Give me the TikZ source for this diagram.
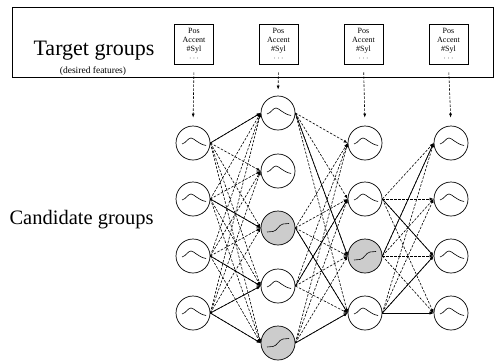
\documentclass[tikz,border=0pt]{standalone}
\usepackage{fontspec}
\setmainfont{Liberation Serif}
\usetikzlibrary{arrows.meta}

\begin{document}
\begin{tikzpicture}[x=1pt,y=-1pt,
    cand/.style={circle,draw,line width=0.7pt,minimum size=34pt,inner sep=0pt},
    bump/.style={cand,path picture={\draw[line width=0.6pt,shift={(path picture bounding box.center)}]
        (-11,1) .. controls (-7,0) and (-5,-5) .. (-2,-5) .. controls (1,-5) and (5,1) .. (13,2.5);}},
    sigm/.style={cand,fill=black!20,path picture={\draw[line width=0.6pt,shift={(path picture bounding box.center)}]
        (-11,4) -- (-5,3.5) .. controls (-1,3) and (1,-3.5) .. (5,-4) -- (11,-4.5);}},
    tbox/.style={draw,line width=0.7pt,minimum width=39pt,minimum height=40pt,inner sep=1pt,
        align=center,font=\fontsize{8}{9}\selectfont},
    dedge/.style={-{Latex[length=4pt,width=3pt]},dash pattern=on 2.5pt off 1.5pt,line width=0.6pt},
    sedge/.style={-{Latex[length=4pt,width=3pt]},line width=0.7pt}]
    \useasboundingbox (0,0) rectangle (494,362);
    % frame of the target groups
    \draw[line width=0.8pt] (12,7) rectangle (493,77);
    \node[anchor=base,font=\fontsize{22}{24}\selectfont] (tlab) at (94,55) {Target groups};
    \node[anchor=base,font=\fontsize{9.5}{11}\selectfont] (tsub) at (93,73) {(desired features)};
    \node[anchor=base west,font=\fontsize{20.5}{24}\selectfont] (clab) at (6,224) {Candidate groups};
    % target feature boxes
    \node[tbox] (t1) at (194,44) {Pos\\Accent\\\#Syl\\$\cdots$};
    \node[tbox] (t2) at (278.5,44) {Pos\\Accent\\\#Syl\\$\cdots$};
    \node[tbox] (t3) at (363.5,44) {Pos\\Accent\\\#Syl\\$\cdots$};
    \node[tbox] (t4) at (448.5,44) {Pos\\Accent\\\#Syl\\$\cdots$};
    % candidate columns
    \node[bump] (a1) at (193,143) {};
    \node[bump] (a2) at (193,199) {};
    \node[bump] (a3) at (193,256) {};
    \node[bump] (a4) at (193,313) {};
    \node[bump] (b1) at (278,113) {};
    \node[bump] (b2) at (278,171) {};
    \node[sigm] (b3) at (278,228) {};
    \node[bump] (b4) at (278,286) {};
    \node[sigm] (b5) at (278,343) {};
    \node[bump] (c1) at (365,143) {};
    \node[bump] (c2) at (365,199) {};
    \node[sigm] (c3) at (365,256) {};
    \node[bump] (c4) at (365,313) {};
    \node[bump] (d1) at (451,143) {};
    \node[bump] (d2) at (451,199) {};
    \node[bump] (d3) at (451,256) {};
    \node[bump] (d4) at (451,313) {};
    % targets to first candidates
    \draw[dedge,shorten <=8pt,shorten >=8pt] (t1.south) -- (a1.north);
    \draw[dedge,shorten <=8pt,shorten >=6pt] (t2.south) -- (b1.north);
    \draw[dedge,shorten <=8pt,shorten >=8pt] (t3.south) -- (c1.north);
    \draw[dedge,shorten <=8pt,shorten >=8pt] (t4.south) -- (d1.north);
    % all transitions
    \foreach \i in {1,...,4}
        \foreach \j in {1,...,5}
            \draw[dedge] (a\i.east) -- (b\j.west);
    \foreach \i in {1,3,4,5}
        \foreach \j in {1,...,4}
            \draw[dedge] (b\i.east) -- (c\j.west);
    \foreach \i in {2,3,4}
        \foreach \j in {1,...,4}
            \draw[dedge] (c\i.east) -- (d\j.west);
    % best paths
    \foreach \i/\j in {1/1,2/3,3/4,4/4,4/5}
        \draw[sedge] (a\i.east) -- (b\j.west);
    \foreach \i/\j in {1/3,3/4,4/2,5/4}
        \draw[sedge] (b\i.east) -- (c\j.west);
    \foreach \i/\j in {2/3,3/1,4/3,4/4}
        \draw[sedge] (c\i.east) -- (d\j.west);
\end{tikzpicture}
\end{document}
